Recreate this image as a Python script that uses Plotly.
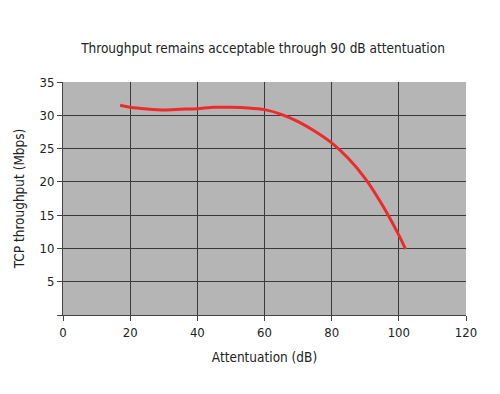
import plotly.graph_objects as go

attenuation_db = [17, 20, 25, 30, 35, 40, 45, 50, 55, 60, 65, 70, 75, 80, 85, 90, 95, 100, 102]
throughput_mbps = [31.5, 31.2, 30.95, 30.8, 30.9, 31.0, 31.2, 31.2, 31.1, 30.85, 30.15, 29.05, 27.6, 25.85, 23.5, 20.5, 16.6, 12.0, 9.9]

x_ticks = [0, 20, 40, 60, 80, 100, 120]
y_ticks = [0, 5, 10, 15, 20, 25, 30, 35]
y_ticktext = ["", "5", "10", "15", "20", "25", "30", "35"]

font_family = "Liberation Sans Narrow, DejaVu Sans Condensed, Arial Narrow, sans-serif"

fig = go.Figure()
fig.add_trace(go.Scatter(
    x=attenuation_db, y=throughput_mbps, mode="lines",
    line=dict(color="#ee2b2b", width=3, shape="spline", smoothing=0.8),
    showlegend=False, hoverinfo="skip"))

fig.update_layout(
    width=500, height=394,
    margin=dict(l=55, r=42, t=74, b=87),
    paper_bgcolor="white", plot_bgcolor="#b5b5b5",
    font=dict(family=font_family, size=13, color="#222"),
    title=dict(text="Throughput remains acceptable through 90 dB attentuation",
               x=0.51, xanchor="center", y=0.898, yanchor="middle",
               font=dict(size=13.5, color="#222")),
    xaxis=dict(range=[0, 120], tickvals=x_ticks, showgrid=True, gridcolor="#3a3a3a", gridwidth=1,
               zeroline=False, showline=True, linecolor="#444", linewidth=1, mirror=False,
               ticks="outside", ticklen=5, tickcolor="#444", automargin=False,
               title=dict(text="Attentuation (dB)", standoff=13, font=dict(size=13.5))),
    yaxis=dict(range=[0, 35], tickvals=y_ticks, ticktext=y_ticktext, showgrid=True, gridcolor="#3a3a3a",
               gridwidth=1, zeroline=False, showline=True, linecolor="#444", linewidth=1,
               ticks="outside", ticklen=5, tickcolor="#444", automargin=False,
               title=dict(text="TCP throughput (Mbps)", standoff=11, font=dict(size=13.5))),
)

fig.write_html("out.html")
